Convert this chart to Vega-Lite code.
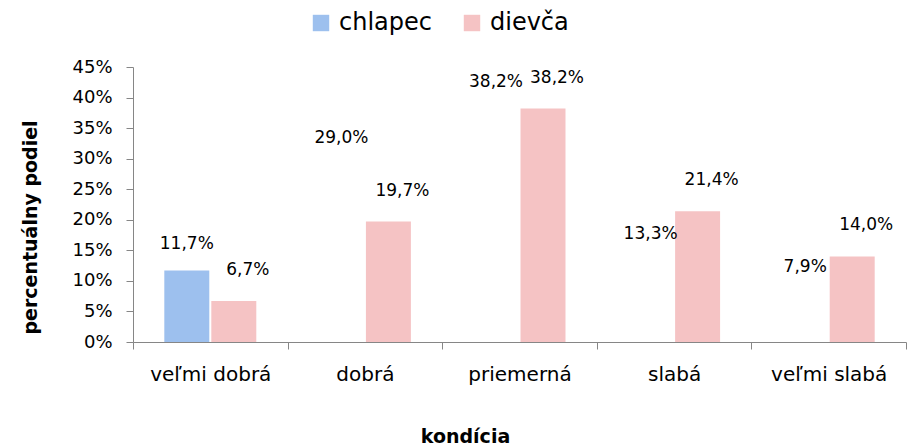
{
  "$schema": "https://vega.github.io/schema/vega-lite/v6.json",
  "autosize": {"type": "none"},
  "padding": {"left": 133, "top": 67, "right": 8, "bottom": 104},
  "width": 773,
  "height": 275,
  "background": "white",
  "config": {
    "font": "DejaVu Sans",
    "view": {"stroke": null}
  },
  "data": {
    "values": [
      {"kondicia": "veľmi dobrá", "pohlavie": "chlapec", "hodnota": 11.7},
      {"kondicia": "veľmi dobrá", "pohlavie": "dievča", "hodnota": 6.7},
      {"kondicia": "dobrá", "pohlavie": "chlapec", "hodnota": 29.0},
      {"kondicia": "dobrá", "pohlavie": "dievča", "hodnota": 19.7},
      {"kondicia": "priemerná", "pohlavie": "chlapec", "hodnota": 38.2},
      {"kondicia": "priemerná", "pohlavie": "dievča", "hodnota": 38.2},
      {"kondicia": "slabá", "pohlavie": "chlapec", "hodnota": 13.3},
      {"kondicia": "slabá", "pohlavie": "dievča", "hodnota": 21.4},
      {"kondicia": "veľmi slabá", "pohlavie": "chlapec", "hodnota": 7.9},
      {"kondicia": "veľmi slabá", "pohlavie": "dievča", "hodnota": 14.0}
    ]
  },
  "transform": [
    {"calculate": "replace(format(datum.hodnota, '.1f'), '.', ',') + '%'", "as": "popis"}
  ],
  "encoding": {
    "x": {
      "field": "kondicia",
      "type": "nominal",
      "sort": ["veľmi dobrá", "dobrá", "priemerná", "slabá", "veľmi slabá"],
      "scale": {"paddingInner": 0, "paddingOuter": 0},
      "axis": {
        "title": "kondícia",
        "titleFontSize": 19,
        "titleFontWeight": "bold",
        "titleColor": "black",
        "titleX": 332,
        "titleY": 94,
        "titleBaseline": "middle",
        "labelAngle": 0,
        "labelFontSize": 20,
        "labelColor": "black",
        "labelPadding": 15,
        "tickBand": "extent",
        "tickSize": 7,
        "tickColor": "#868686",
        "domainColor": "#868686",
        "grid": false
      }
    },
    "xOffset": {
      "field": "pohlavie",
      "type": "nominal",
      "sort": ["chlapec", "dievča"],
      "scale": {"domain": ["chlapec", "dievča"], "paddingInner": 0.043, "paddingOuter": 0.666}
    },
    "y": {
      "field": "hodnota",
      "type": "quantitative",
      "scale": {"domain": [0, 45]},
      "axis": {
        "title": "percentuálny podiel",
        "titleFontSize": 19,
        "titleFontWeight": "bold",
        "titleColor": "black",
        "titleX": -103,
        "titleY": 160,
        "titleBaseline": "middle",
        "values": [0, 5, 10, 15, 20, 25, 30, 35, 40, 45],
        "labelExpr": "datum.value + '%'",
        "labelFontSize": 18,
        "labelColor": "black",
        "labelPadding": 14,
        "tickSize": 7,
        "tickColor": "#868686",
        "domainColor": "#868686",
        "grid": false
      }
    }
  },
  "layer": [
    {
      "mark": {"type": "bar"},
      "encoding": {
        "color": {
          "field": "pohlavie",
          "type": "nominal",
          "sort": ["chlapec", "dievča"],
          "scale": {"domain": ["chlapec", "dievča"], "range": ["#9dc0ee", "#f5c3c4"]},
          "legend": {
            "title": null,
            "orient": "none",
            "direction": "horizontal",
            "legendX": 176,
            "legendY": -56,
            "symbolType": "square",
            "symbolSize": 270,
            "symbolStrokeWidth": 0,
            "labelFontSize": 24,
            "labelColor": "black",
            "labelOffset": 6,
            "columnPadding": 28,
            "symbolOffset": 0
          }
        },
        "opacity": {
          "condition": {"test": "datum.pohlavie === 'chlapec' && datum.kondicia !== 'veľmi dobrá'", "value": 0},
          "value": 1
        }
      }
    },
    {
      "transform": [{"filter": "datum.pohlavie === 'chlapec'"}],
      "mark": {"type": "text", "fontSize": 17, "color": "black", "baseline": "middle", "dy": -27},
      "encoding": {
        "text": {"field": "popis", "type": "nominal"}
      }
    },
    {
      "transform": [{"filter": "datum.pohlavie === 'dievča'"}],
      "mark": {"type": "text", "fontSize": 17, "color": "black", "baseline": "middle", "dx": 14, "dy": -31},
      "encoding": {
        "text": {"field": "popis", "type": "nominal"}
      }
    }
  ]
}
